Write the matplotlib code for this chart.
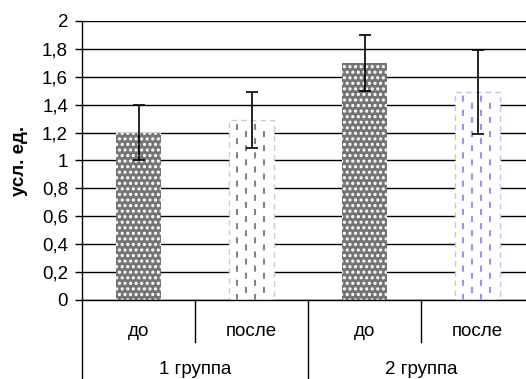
import matplotlib
matplotlib.use("Agg")
import matplotlib.pyplot as plt
import numpy as np

plt.rcParams['font.family'] = ['Liberation Sans', 'DejaVu Sans']
plt.rcParams['hatch.linewidth'] = 1.5

# ---- data ----
conditions = ["до", "после", "до", "после"]
groups = ["1 группа", "2 группа"]
values = [1.2, 1.29, 1.7, 1.49]
errors = [0.2, 0.2, 0.2, 0.3]
yticks = [0, 0.2, 0.4, 0.6, 0.8, 1.0, 1.2, 1.4, 1.6, 1.8, 2.0]
ytick_labels = ["0", "0,2", "0,4", "0,6", "0,8", "1", "1,2", "1,4", "1,6", "1,8", "2"]
ylabel = "усл. ед."

# styles: 'dots' = gray with white dots, 'dash' = white with dashed verticals
styles = ["dots", "dash", "dots", "dash"]
dash_colors = [None, "#848484", None, "#9494f5"]
edge_colors = [None, "#cccccc", None, "#c4c4f2"]

FS = 13.5

fig = plt.figure(figsize=(5.26, 3.79), dpi=100)
ax = fig.add_axes([82/526, 1-300/379, 452/526, 279/379])

x = np.arange(len(values))
bw = 0.39

ax.set_ylim(0, 2)
ax.set_xlim(-0.5, len(values) - 0.5)
ax.set_yticks(yticks)
ax.set_yticklabels(ytick_labels)
ax.yaxis.grid(True, color="black", linewidth=1.0)
ax.set_axisbelow(True)

for i, (xi, v) in enumerate(zip(x, values)):
    if styles[i] == "dots":
        ax.bar(xi, v, width=bw, color="#747474", edgecolor="white",
               hatch="...", linewidth=0, zorder=2)
    else:
        ax.bar(xi, v, width=bw, color="white", edgecolor=edge_colors[i],
               linewidth=1.0, linestyle=(0, (4, 3)), zorder=2)
        fr = [-0.32, -0.12, 0.08, 0.28]
        for k, f in enumerate(fr):
            ax.vlines(xi + f * bw, 0, v - 0.02, colors=dash_colors[i],
                      linewidth=1.5,
                      linestyles=[(0 if k % 2 == 0 else 3.4, (2.9, 3.9))], zorder=3)

ax.errorbar(x, values, yerr=errors, fmt="none", ecolor="black",
            elinewidth=1.2, capsize=4, capthick=1.2, zorder=4)

for s in ["top", "right"]:
    ax.spines[s].set_visible(False)
ax.spines["left"].set_linewidth(1.0)
ax.spines["bottom"].set_linewidth(1.0)

ax.tick_params(axis="y", direction="out", length=5, width=1, labelsize=FS, pad=5)
ax.set_xticks([])

ax.set_ylabel(ylabel, fontsize=FS, fontweight="bold", labelpad=10)

trans = ax.get_xaxis_transform()
# category labels
for xi, lab in zip(x, conditions):
    ax.text(xi, -36/279, lab, transform=trans, ha="center", va="baseline", fontsize=FS)
# group labels
for gi, g in enumerate(groups):
    ax.text(2 * gi + 0.5, -74/279, g, transform=trans, ha="center", va="baseline", fontsize=FS)

# separators
for b in [-0.5, 1.5, 3.5]:
    ax.plot([b, b], [0, -0.4], transform=trans, color="black", lw=1, clip_on=False)
for b in [0.5, 2.5]:
    ax.plot([b, b], [0, -42/279], transform=trans, color="black", lw=1, clip_on=False)

fig.savefig("out.png", dpi=100)
